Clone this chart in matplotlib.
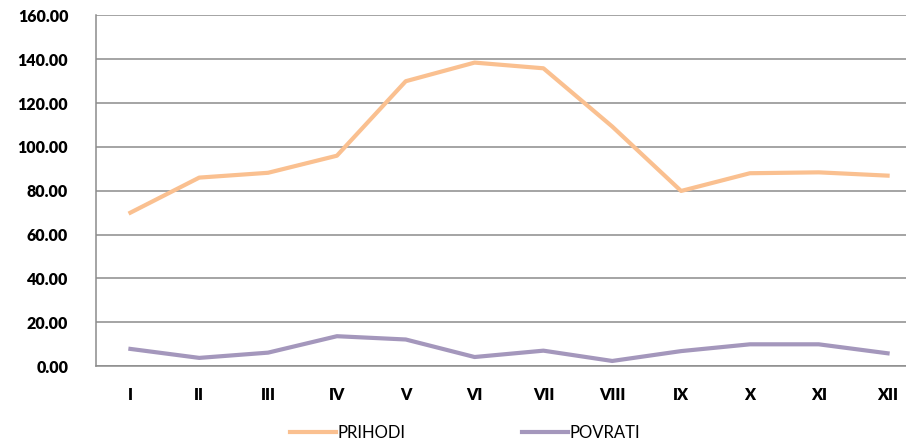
import matplotlib
matplotlib.use("Agg")
import matplotlib.pyplot as plt

months = ["I", "II", "III", "IV", "V", "VI", "VII", "VIII", "IX", "X", "XI", "XII"]
prihodi = [70.0, 86.0, 88.2, 96.0, 130.0, 138.5, 135.9, 109.3, 79.9, 88.0, 88.4, 86.9]
povrati = [7.8, 3.7, 6.1, 13.6, 12.1, 4.1, 7.0, 2.3, 6.8, 9.9, 9.9, 5.8]
yticks = [0, 20, 40, 60, 80, 100, 120, 140, 160]

plt.rcParams['font.family'] = ['Lato', 'DejaVu Sans']

fig = plt.figure(figsize=(9.06, 4.44), dpi=100)
ax = fig.add_axes([96/906, 78/444, 826/906, 350.5/444])

x = list(range(len(months)))
ax.plot(x, prihodi, color="#FAC090", lw=3.0, solid_joinstyle="round", label="PRIHODI")
ax.plot(x, povrati, color="#A497BC", lw=3.0, solid_joinstyle="round", label="POVRATI")

ax.set_xlim(-0.5, 11.5)
ax.set_ylim(0, 160)
ax.set_yticks(yticks)
ax.set_yticklabels([f"{v:.2f}" for v in yticks], fontsize=11.5, fontweight="heavy")
ax.set_xticks(x)
ax.set_xticklabels(months, fontsize=11.5, fontweight="heavy")
ax.tick_params(axis="both", length=0)
ax.tick_params(axis="x", pad=15)
ax.tick_params(axis="y", pad=20)
ax.grid(axis="y", color="#8C8C8C", lw=1.1)
ax.set_axisbelow(True)
for s in ["top", "right"]:
    ax.spines[s].set_visible(False)
for s in ["left", "bottom"]:
    ax.spines[s].set_color("#8C8C8C")
    ax.spines[s].set_linewidth(1.1)

fig.legend(loc="center", bbox_to_anchor=(0.513, 11/444), ncol=2, frameon=False,
           fontsize=12, handlelength=2.8, handletextpad=0.05, columnspacing=7.0)

fig.savefig("out.png", dpi=100)
